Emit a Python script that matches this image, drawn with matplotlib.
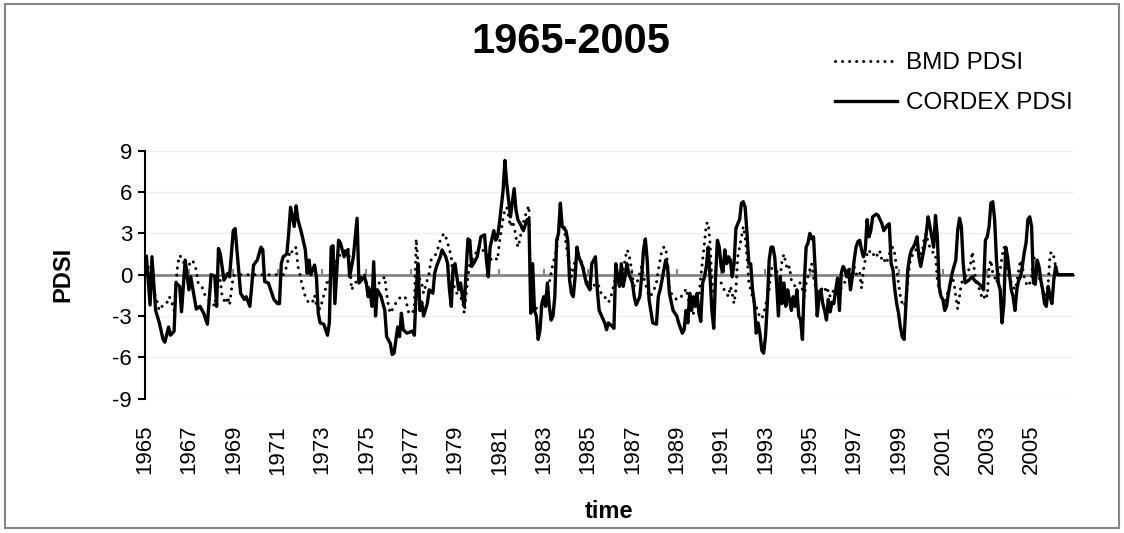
import matplotlib
matplotlib.use('Agg')
import matplotlib.pyplot as plt
from matplotlib.patches import Rectangle

plt.rcParams['font.family'] = ['Liberation Sans', 'DejaVu Sans']
plt.rcParams['axes.unicode_minus'] = False

# monthly categories, Jan 1965 = 0 ... Dec 2006 = 503
n_months = 504
year_labels = [str(y) for y in range(1965, 2006, 2)]

# (month index, PDSI)
bmd = [
    (0, 0.6), (1, 1.06), (5, -1.1), (7, -2.1), (8, -2.6), (10, -2.2), (12, -2.1),
    (13, -1.6), (14, -1.7), (16, -2.6), (17, -0.6), (18, 0.8), (19, 1.4), (21, 1.06),
    (22, 0.1), (24, 0.7), (26, 1.06), (28, 0.35), (29, -0.6), (31, -0.85), (33, -1.6),
    (37, -2.1), (38, -2.3), (39, -1.1), (41, -0.4), (42, -1.6), (44, -2.1), (45, -1.6),
    (46, -2.2), (47, -1.1), (48, -0.1), (49, 0.0), (75, 0.0),
    (77, 0.6), (78, 1.3), (79, 1.8), (80, 1.6), (82, 2.0), (83, 0.6), (84, 0.1),
    (85, -0.6), (86, -1.1), (87, -1.6), (89, -2.1), (91, -1.95), (92, -1.5), (93, -2.3),
    (95, -2.5), (98, -1.0), (99, -0.4), (100, -0.6), (102, 0.5), (106, 1.5), (109, 1.8),
    (110, 2.0), (111, 1.06), (112, -1.1), (114, -0.6), (119, 0.1),
    (120, -0.85), (124, -1.1), (127, -0.6), (130, -0.15), (131, -1.35), (132, -2.3),
    (133, -2.8), (135, -2.3), (137, -1.8), (139, -1.6), (141, -1.6), (143, -2.8),
    (145, -2.8), (146, -2.3), (147, 2.6), (148, 0.8), (149, -0.4), (150, -0.6),
    (151, -1.35), (152, -0.85), (153, -0.4), (154, 0.1), (155, 1.06), (157, 1.3),
    (159, 2.0), (160, 2.5), (162, 3.0), (163, 2.75), (164, 2.3), (166, 1.3), (167, -0.6),
    (168, -1.1), (170, -1.6), (172, -1.8), (173, -2.8), (175, -0.15), (176, 0.8),
    (179, 1.5), (181, 2.0), (182, 2.1), (184, 1.5),
    (185, 1.5), (187, 1.06), (189, 1.3), (191, 1.06), (192, 2.3), (193, 3.2), (194, 4.1),
    (195, 4.7), (196, 4.9), (197, 4.2), (198, 3.5), (199, 3.9), (200, 3.5), (201, 2.75),
    (202, 2.0), (203, 2.5), (204, 3.2), (205, 3.8), (207, 4.7), (208, 5.0), (209, -2.5),
    (211, -2.3), (213, -2.6), (215, -2.3), (217, -1.6), (219, -0.6), (221, 0.8),
    (223, 1.8), (224, 3.2), (226, 3.5), (227, 3.7), (228, 2.3), (230, 0.6), (231, -0.15),
    (233, 1.06), (235, 1.3), (237, 0.8), (239, -0.4), (242, -1.1),
    (244, -0.6), (246, -0.85), (247, -1.35), (248, -1.6), (250, -1.7), (251, -2.0),
    (252, -1.8), (255, -0.15), (257, -0.4), (259, 0.35), (260, 1.06), (261, 1.8),
    (262, 1.6), (263, 0.8), (264, -0.15), (265, -0.85), (267, -0.4), (268, 0.1),
    (269, 0.6), (270, -0.15), (273, -1.6), (275, -1.35), (277, -0.6), (278, 0.35),
    (279, 1.06), (280, 1.8), (281, 2.0), (282, 2.0), (283, 0.8), (284, -1.1), (286, -1.6),
    (288, -1.8), (289, -1.8), (292, -1.35), (293, -1.0), (294, -1.6), (295, -2.3),
    (297, -2.8), (298, -2.1), (300, -1.6), (301, -0.15), (302, 1.06), (303, 2.3),
    (304, 3.7), (305, 3.8), (306, 2.3),
    (307, -0.5), (308, -1.2), (309, -0.6), (310, -0.6), (312, -0.6), (314, -1.2),
    (315, -1.35), (316, -1.6), (317, -0.85), (318, -1.35), (319, -2.1), (320, -1.1),
    (321, 1.3), (322, 2.0), (323, 2.75), (324, 3.5), (325, 2.75), (326, 1.3), (327, -0.6),
    (328, -1.1), (329, -1.6), (330, -2.1), (331, -2.3), (332, -2.8), (333, -3.0),
    (334, -3.2), (335, -2.8), (336, -2.3), (337, -1.6), (338, -1.1), (339, 0.35),
    (340, 0.6), (341, 0.8), (343, -0.15), (344, -0.15), (345, 1.06), (346, 1.5),
    (347, 0.8), (348, 0.35), (349, 0.6), (350, -0.4), (351, -0.6), (352, -0.85),
    (353, -0.75), (354, -0.6), (355, -0.6), (356, -1.1), (357, -1.6), (358, -0.6),
    (359, -0.15), (360, 0.35), (361, 0.8), (362, -0.15), (363, -0.85), (364, -1.1),
    (365, -1.35), (366, -1.1), (368, -0.85),
    (369, -1.35), (370, -1.1), (371, -1.6), (372, -1.4), (373, -1.1), (374, -1.4),
    (376, -1.1), (378, -0.85), (380, -0.15), (381, 0.35), (382, 0.45), (383, -0.15),
    (384, 0.6), (385, 0.1), (386, -0.15), (387, 0.1), (388, -1.0), (389, 0.35),
    (390, 1.06), (391, 1.5), (392, 1.8), (393, 1.5), (394, 1.6), (395, 1.3), (396, 1.5),
    (397, 1.3), (398, 1.67), (399, 1.06), (400, 1.2), (401, 0.8), (402, 1.06), (403, 1.5),
    (404, 1.9), (405, 2.0), (406, 1.5), (407, 0.35), (408, -0.6), (409, -1.6),
    (410, -2.1), (411, -2.3), (412, -1.8), (413, -0.6), (414, 0.8), (415, 1.3),
    (416, 1.5), (417, 1.8), (418, 1.8), (419, 1.8), (420, 1.5), (421, 1.8), (422, 2.75),
    (423, 3.0), (424, 2.3), (425, 2.0), (426, 1.8), (427, 1.5), (428, 1.5), (429, -0.4),
    (430, -1.1), (431, -1.6), (432, -1.8), (433, -2.3), (434, -1.6), (435, -1.1),
    (436, -0.6),
    (437, -0.15), (438, -0.6), (439, -1.6), (440, -2.5), (441, -1.6), (442, -0.6),
    (443, -0.4), (444, -0.15), (446, 0.35), (447, 0.8), (448, 1.67), (449, 0.35),
    (450, -0.6), (451, -0.85), (452, -1.1), (453, -1.6), (454, -1.8), (455, -1.35),
    (456, -1.6), (457, 0.6), (458, 1.06), (459, 0.1), (460, -0.15), (461, -0.6),
    (462, -0.15), (463, 0.35), (464, 1.3), (465, 2.0), (466, 1.8), (467, 0.1),
    (468, -0.15), (469, -0.6), (470, -0.85), (471, -1.1), (472, -0.6), (473, 0.35),
    (474, 1.06), (475, 0.6), (476, -0.15), (477, -0.6), (478, -0.85), (479, -0.6),
    (480, -0.15), (481, 1.3), (482, 1.06), (483, 0.35), (484, -0.15), (485, -0.6),
    (486, -1.1), (487, -1.6), (488, -1.35), (489, -0.6), (490, 1.5), (491, 1.67),
    (492, 1.3), (493, 0.6), (494, 0.0), (503, 0.0),
]

cordex = [
    (0, 1.06), (1, 1.35), (3, -2.2), (4, 1.3), (6, -2.6), (8, -3.5), (10, -4.7),
    (11, -4.9), (13, -3.8), (14, -4.4), (16, -4.1), (17, -0.6), (19, -0.85), (20, -2.7),
    (22, 1.06), (24, -1.1), (25, -0.15), (28, -2.5), (30, -2.3), (32, -2.8), (34, -3.6),
    (36, 0.0), (38, -0.1), (39, -2.3), (40, 1.9), (41, 1.5), (43, -0.4), (45, 0.1),
    (46, -0.15), (48, 3.2), (49, 3.35), (52, -1.35), (54, -1.8), (55, -1.6),
    (57, -2.3), (59, 0.7), (61, 1.06), (63, 2.0), (64, 1.8), (65, -0.5), (67, -0.6),
    (70, -1.8), (72, -2.1), (73, -2.1), (74, 0.8), (75, 1.3), (77, 1.5), (78, 3.0),
    (79, 4.9), (81, 3.5), (82, 5.0), (83, 4.0), (85, 3.0), (87, 1.8), (88, 0.1),
    (89, 1.06), (90, 0.0), (92, 0.7), (93, -0.15), (94, -2.8), (95, -3.5), (97, -3.6),
    (99, -4.4), (100, -3.5), (101, 2.0), (102, 2.1), (103, -2.1), (105, 2.5), (106, 2.3),
    (108, 1.3), (110, 1.8), (111, -0.15), (113, 1.3), (115, 4.1), (116, -0.6),
    (119, -0.15),
    (120, -0.6), (121, -1.6), (122, -1.1), (123, -2.3), (124, 0.94), (125, -3.0),
    (126, -1.1), (128, -1.6), (129, -2.1), (130, -2.6), (131, -4.5), (133, -5.0),
    (134, -5.8), (135, -5.7), (137, -3.8), (138, -4.5), (139, -2.8), (140, -4.0),
    (142, -4.25), (145, -4.1), (146, -4.4), (147, -1.1), (148, 0.8), (149, -2.6),
    (150, -2.0), (151, -3.0), (153, -2.1), (154, -1.1), (156, -1.35), (157, 0.1),
    (158, 0.6), (160, 1.3), (161, 1.8), (163, 1.3), (164, 0.8), (165, -1.1), (166, -2.3),
    (167, 0.6), (168, 0.8), (170, -1.1), (171, -0.6), (172, -1.6), (173, -2.3),
    (174, 0.3), (175, 2.6), (176, 2.5), (177, 0.6), (178, 0.8), (180, 1.3), (182, 2.75),
    (184, 2.9), (185, 1.06), (186, -0.15),
    (187, 2.0), (189, 3.2), (190, 2.5), (191, 2.75), (192, 3.7), (193, 4.9), (194, 6.1),
    (195, 8.3), (196, 6.6), (197, 5.4), (198, 4.2), (199, 5.2), (200, 6.25), (201, 4.7),
    (202, 4.0), (204, 3.5), (205, 3.2), (207, 4.0), (208, 4.0), (209, -2.8), (210, 0.8),
    (211, -2.6), (212, -3.0), (213, -4.7), (214, -4.0), (215, -2.1), (216, -1.6),
    (217, -2.3), (218, -0.6), (219, -2.3), (220, -3.3), (221, -3.0), (222, -1.6),
    (223, 2.5), (224, 3.0), (225, 5.2), (226, 3.5), (228, 3.2), (229, 2.5), (230, -0.4),
    (231, -1.35), (232, -1.6), (233, -0.15), (234, 2.0), (235, 1.3), (237, 0.6),
    (239, -0.6), (241, -1.1), (242, 0.8), (244, 1.3),
    (245, -1.1), (246, -2.6), (249, -3.5), (250, -4.0), (251, -3.5), (253, -3.75),
    (254, -3.9), (255, 0.8), (256, -0.15), (257, -0.85), (258, 0.8), (259, -0.85),
    (260, -0.15), (261, 0.8), (262, 0.1), (264, -0.6), (265, -1.6), (266, -2.2),
    (268, -1.6), (269, -0.15), (270, 1.8), (271, 2.6), (272, 1.06), (273, -1.8),
    (275, -3.5), (277, -3.6), (278, -1.6), (279, -1.1), (280, -0.4), (282, 1.06),
    (283, 0.6), (284, -1.35), (286, -2.6), (288, -3.0), (289, -3.5), (291, -4.25),
    (292, -4.0), (293, -2.6), (294, -3.5), (295, -1.35), (296, -2.6), (297, -1.6),
    (298, -2.3), (299, -1.35), (300, -2.8), (301, -3.4), (302, -0.6), (303, -0.15),
    (304, 0.6), (305, 2.0), (306, -0.15),
    (307, -2.6), (308, -3.9), (309, -0.15), (310, 2.5), (311, 2.0), (312, 0.6),
    (313, 0.2), (314, 1.8), (315, 0.8), (316, 1.3), (317, 1.06), (318, -0.15), (319, 0.8),
    (320, 3.35), (321, 3.7), (322, 4.0), (323, 5.2), (324, 5.3), (325, 4.9), (326, 3.0),
    (327, 0.8), (328, 0.8), (329, -1.1), (330, -2.1), (331, -4.25), (332, -3.5),
    (333, -4.25), (334, -5.5), (335, -5.7), (336, -4.5), (337, -2.1), (338, 1.06),
    (339, 2.0), (340, 2.0), (341, 1.3), (342, -0.6), (343, -3.0), (344, -0.15),
    (345, -2.1), (346, -0.6), (347, -2.3), (348, -1.1), (349, -1.8), (350, -2.6),
    (351, -1.6), (352, -2.3), (353, -1.1), (354, -3.0), (355, -3.3), (356, -4.7),
    (357, -0.6), (358, 2.0), (359, 2.3), (360, 3.0), (361, 2.6), (362, 2.75), (363, 0.1),
    (364, -3.0), (365, -1.6), (366, -1.1), (367, -2.1), (368, -2.6),
    (369, -3.3), (370, -1.8), (371, -2.7), (372, -2.0), (373, -2.1), (374, -1.1),
    (375, -0.25), (376, -2.6), (377, 0.1), (378, 0.6), (379, 0.35), (380, -0.15),
    (381, 0.35), (382, -1.1), (383, -0.15), (384, 1.06), (385, 2.0), (386, 2.4),
    (387, 2.5), (388, 1.8), (389, 1.3), (390, 1.8), (391, 4.0), (392, 2.75), (393, 3.2),
    (394, 4.2), (395, 4.3), (396, 4.4), (397, 4.3), (398, 4.0), (399, 3.7), (400, 3.2),
    (401, 3.4), (402, 3.6), (403, 3.7), (404, 0.8), (405, 0.35), (406, -1.1), (407, -2.1),
    (408, -2.8), (409, -3.8), (410, -4.5), (411, -4.7), (412, -2.1), (413, 0.35),
    (414, 1.3), (415, 1.8), (416, 2.0), (417, 2.3), (418, 2.75), (419, 1.3), (420, 0.6),
    (421, 1.3), (422, 2.0), (423, 3.0), (424, 4.2), (425, 3.5), (426, 2.75), (427, 2.0),
    (428, 4.3), (429, 2.75), (430, -0.85), (431, -1.6), (432, -1.8), (433, -2.6),
    (434, -2.3), (435, -1.35), (436, -0.6),
    (437, 0.1), (438, 0.6), (439, 1.06), (440, 3.2), (441, 4.1), (442, 3.5), (443, 0.8),
    (444, -0.6), (446, -0.4), (448, -0.15), (449, -0.4), (451, -0.6), (453, -0.85),
    (454, -1.1), (455, 2.5), (456, 2.75), (457, 3.5), (458, 5.2), (459, 5.3), (460, 4.0),
    (461, 1.06), (462, -0.6), (463, -1.1), (464, -3.5), (465, -2.1), (466, 2.0),
    (467, 1.3), (468, 0.1), (469, -1.1), (470, -1.6), (471, -2.6), (472, -1.1),
    (473, -0.4), (474, -0.15), (475, 0.6), (476, 1.6), (477, 2.3), (478, 4.0), (479, 4.2),
    (480, 3.5), (481, -0.6), (482, -0.7), (483, 1.06), (484, 0.6), (485, -0.4),
    (486, -1.1), (487, -2.1), (488, -2.3), (489, -0.85), (490, -1.6), (491, -2.1),
    (492, -0.4), (493, 0.6), (494, 0.0), (503, 0.0),
]

bmd_m, bmd_v = zip(*bmd)
cor_m, cor_v = zip(*cordex)

fig = plt.figure(figsize=(11.24, 5.33), dpi=100)
ax = fig.add_axes([0.1286, 0.2522, 0.827, 0.4649])

# horizontal axis crossing at zero (drawn behind the series)
ax.axhline(0, color='#868686', lw=2, zorder=1.5)

ax.plot(bmd_m, bmd_v, color='black', lw=2.2, linestyle=(0, (0.01, 2.3)),
        dash_capstyle='round', label='BMD PDSI', zorder=2)
ax.plot(cor_m, cor_v, color='black', lw=2.4, label='CORDEX PDSI', zorder=3)

ax.set_xlim(0, n_months - 1)
ax.set_ylim(-9, 9)
ax.set_yticks(range(-9, 10, 3))
ax.grid(axis='y', color='#eeeeee', lw=1)
ax.set_axisbelow(True)

for side in ['top', 'right', 'bottom']:
    ax.spines[side].set_visible(False)
ax.spines['left'].set_linewidth(1.5)
ax.tick_params(axis='y', direction='out', length=5, width=1.5, labelsize=16, pad=4)

label_pos = list(range(0, 481, 24))
ax.set_xticks(label_pos)
ax.set_xticklabels(year_labels, rotation=90)
ax.tick_params(axis='x', length=0, pad=19, labelsize=16)

# small tick marks on the zero line
zero_ax = ax.secondary_xaxis(0.5)
zero_ax.set_xticks(label_pos)
zero_ax.set_xticklabels([''] * len(label_pos))
zero_ax.tick_params(color='#868686', length=4, width=1.5)
zero_ax.spines['bottom'].set_visible(False)

ax.set_ylabel('PDSI', fontsize=17, fontweight='bold')
ax.yaxis.set_label_coords(-0.0877, 0.5)
ax.yaxis.label.set_va('center')
ax.set_xlabel('time', fontsize=17, fontweight='bold')
ax.xaxis.set_label_coords(0.5, -0.4577)
ax.xaxis.label.set_va('center')

fig.text(571 / 1124, 1 - 42 / 533, '1965-2005', fontsize=30, fontweight='bold',
         ha='center', va='center')

ax.legend(loc='upper left', bbox_to_anchor=(835 / 1124, 1 - 52 / 533),
          bbox_transform=fig.transFigure, frameon=False, fontsize=17.5,
          handlelength=2.57, handletextpad=0.37, labelspacing=0.75,
          borderpad=0, borderaxespad=0)

fig.patches.append(Rectangle((5 / 1124, 5 / 533), 1114 / 1124, 524 / 533,
                             transform=fig.transFigure, fill=False,
                             ec='#868686', lw=1.5))

fig.savefig('out.png', dpi=100)
